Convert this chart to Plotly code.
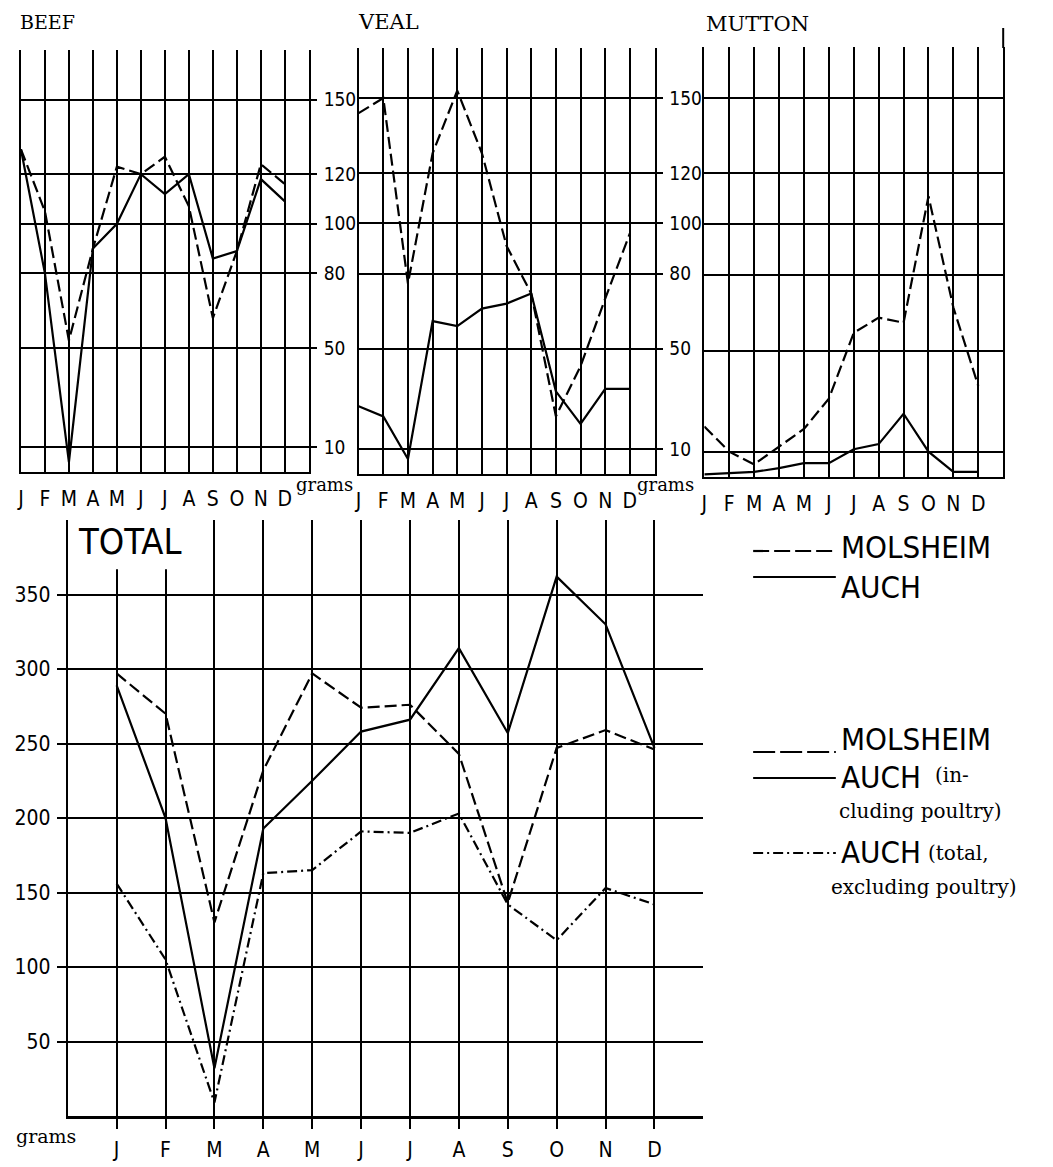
import plotly.graph_objects as go

W, H = 1053, 1167

months = ["J", "F", "M", "A", "M", "J", "J", "A", "S", "O", "N", "D"]
month_idx = list(range(12))

beef_molsheim = [130, 105, 53, 90, 123, 120, 127, 107, 62, 89, 124, 116]
beef_auch = [130, 80, 4, 90, 100, 120, 112, 120, 86, 89, 118, 109]

veal_molsheim = [144, 150, 76, 128, 153, 128, 91, 72, 23, 43, 70, 96]
veal_auch = [27, 23, 6, 61, 59, 66, 68, 72, 33, 20, 34, 34]

mutton_molsheim = [20, 10, 5, 12, 19, 31, 57, 63, 61, 111, 67, 36]
mutton_auch = [1, 1.5, 2, 3.5, 5.5, 5.5, 11, 13, 25, 10, 2, 2]

total_molsheim = [297, 270, 130, 232, 297, 274, 276, 243, 143, 247, 259, 246]
total_auch_incl = [289, 200, 32, 193, 225, 258, 266, 314, 257, 362, 330, 247]
total_auch_excl = [156, 105, 9, 163, 165, 191, 190, 203, 142, 118, 153, 142]

small_ticks = [10, 50, 80, 100, 120, 150]
total_ticks = [50, 100, 150, 200, 250, 300, 350]

SANS = "DejaVu Sans Condensed, Liberation Sans Narrow, Liberation Sans, sans-serif"
SERIF = "DejaVu Serif, Liberation Serif, serif"

DASH = "12px,5px"
DASHDOT = "10px,4px,2px,4px"
LW = 2.2


def px(x):
    return x / W


def py(y):
    return 1 - y / H


fig = go.Figure()

panels = [
    ("x", "y", beef_molsheim, beef_auch),
    ("x2", "y2", veal_molsheim, veal_auch),
    ("x3", "y3", mutton_molsheim, mutton_auch),
]
for xa, ya, mol, auch in panels:
    fig.add_trace(go.Scatter(x=month_idx, y=mol, mode="lines", xaxis=xa, yaxis=ya,
                             line=dict(color="black", width=LW, dash=DASH),
                             showlegend=False, cliponaxis=False))
    fig.add_trace(go.Scatter(x=month_idx, y=auch, mode="lines", xaxis=xa, yaxis=ya,
                             line=dict(color="black", width=LW),
                             showlegend=False, cliponaxis=False))

fig.add_trace(go.Scatter(x=month_idx, y=total_molsheim, mode="lines", xaxis="x4", yaxis="y4",
                         line=dict(color="black", width=LW, dash=DASH), showlegend=False))
fig.add_trace(go.Scatter(x=month_idx, y=total_auch_incl, mode="lines", xaxis="x4", yaxis="y4",
                         line=dict(color="black", width=LW), showlegend=False))
fig.add_trace(go.Scatter(x=month_idx, y=total_auch_excl, mode="lines", xaxis="x4", yaxis="y4",
                         line=dict(color="black", width=LW, dash=DASHDOT), showlegend=False))

grid = dict(showgrid=True, gridcolor="black", gridwidth=1.6, zeroline=False)


def small_x(dom, anchor):
    return dict(domain=dom, anchor=anchor, range=[0, 12],
                tickmode="array", tickvals=list(range(13)), ticktext=months + [""],
                showline=True, linecolor="black", linewidth=2.2, ticks="",
                tickfont=dict(family=SANS, size=21, color="black"),
                ticklabelstandoff=7, **grid)


def small_y(dom, anchor, labels=True):
    return dict(domain=dom, anchor=anchor, range=[0, 170], side="right",
                tickmode="array", tickvals=small_ticks,
                showticklabels=labels, ticks="outside" if labels else "",
                ticklen=6, tickwidth=1.6, tickcolor="black",
                showline=True, mirror=True, linecolor="black", linewidth=2,
                tickfont=dict(family=SANS, size=19, color="black"),
                ticklabelstandoff=3, **grid)


layout = dict(
    width=W, height=H, margin=dict(l=0, r=0, t=0, b=0),
    paper_bgcolor="white", plot_bgcolor="white", showlegend=False,
    xaxis=small_x([px(17), px(306)], "y"),
    yaxis=small_y([py(472), py(50)], "x"),
    xaxis2=small_x([px(356), px(653)], "y2"),
    yaxis2=small_y([py(474), py(48)], "x2"),
    xaxis3=small_x([px(703), px(1003)], "y3"),
    yaxis3=small_y([py(477), py(47)], "x3", labels=False),
    xaxis4=dict(domain=[px(64), px(702)], anchor="y4", range=[-1, 12],
                tickmode="array", tickvals=month_idx, ticktext=months,
                showline=True, linecolor="black", linewidth=2.6,
                ticks="outside", ticklen=10, tickwidth=1.6, tickcolor="black",
                tickfont=dict(family=SANS, size=21, color="black"),
                ticklabelstandoff=3, **grid),
    yaxis4=dict(domain=[py(1116), py(520)], anchor="x4", range=[0, 400],
                tickmode="array", tickvals=total_ticks,
                showline=True, linecolor="black", linewidth=2,
                ticks="outside", ticklen=9, tickwidth=1.6, tickcolor="black",
                tickfont=dict(family=SANS, size=21, color="black"),
                ticklabelstandoff=2, **grid),
)
fig.update_layout(**layout)

shapes = []
# white patch behind the TOTAL heading (grid lines of J and F stop below it)
shapes.append(dict(type="rect", xref="x4", yref="y4", x0=-0.95, x1=1.35, y0=367, y1=400,
                   fillcolor="white", line=dict(width=0), layer="between"))
# taller right border of mutton panel
shapes.append(dict(type="line", xref="paper", yref="paper", x0=px(1003), x1=px(1003),
                   y0=py(28), y1=py(48), line=dict(color="black", width=2)))


def key(y, dash, x0=752, x1=835):
    shapes.append(dict(type="line", xref="paper", yref="paper", x0=px(x0), x1=px(x1),
                       y0=py(y), y1=py(y), line=dict(color="black", width=2.2, dash=dash)))


key(551, "16px,5px")
key(577, "solid")
key(752, "22px,5px")
key(778, "solid")
key(853, DASHDOT)
fig.update_layout(shapes=shapes)

ann = []


def text(x, y, s, size, family, xanchor="left", yanchor="middle"):
    ann.append(dict(x=px(x), y=py(y), xref="paper", yref="paper", text=s, showarrow=False,
                    xanchor=xanchor, yanchor=yanchor,
                    font=dict(family=family, size=size, color="black")))


text(14, 22, "BEEF", 19, SERIF)
text(353, 22, "VEAL", 21, SERIF)
text(703, 24, "MUTTON", 21, SERIF)
text(322, 484, "grams", 18, SERIF, xanchor="center")
text(664, 484, "grams", 18, SERIF, xanchor="center")
text(10, 1136, "grams", 19, SERIF)
text(72, 541, "TOTAL", 36, SANS)

text(838, 547, "MOLSHEIM", 31, SANS)
text(838, 587, "AUCH", 31, SANS)
text(838, 739, "MOLSHEIM", 31, SANS)
text(838, 777, "AUCH", 31, SANS)
text(933, 775, "(in-", 20, SERIF)
text(836, 811, "cluding poultry)", 20, SERIF)
text(838, 852, "AUCH", 31, SANS)
text(926, 853, "(total,", 20, SERIF)
text(828, 887, "excluding poultry)", 20, SERIF)

fig.update_layout(annotations=ann)

fig.write_html(
    "out.html",
    config={"displayModeBar": False},
    post_script="document.body.style.margin='0px';document.body.style.overflow='hidden';",
)
